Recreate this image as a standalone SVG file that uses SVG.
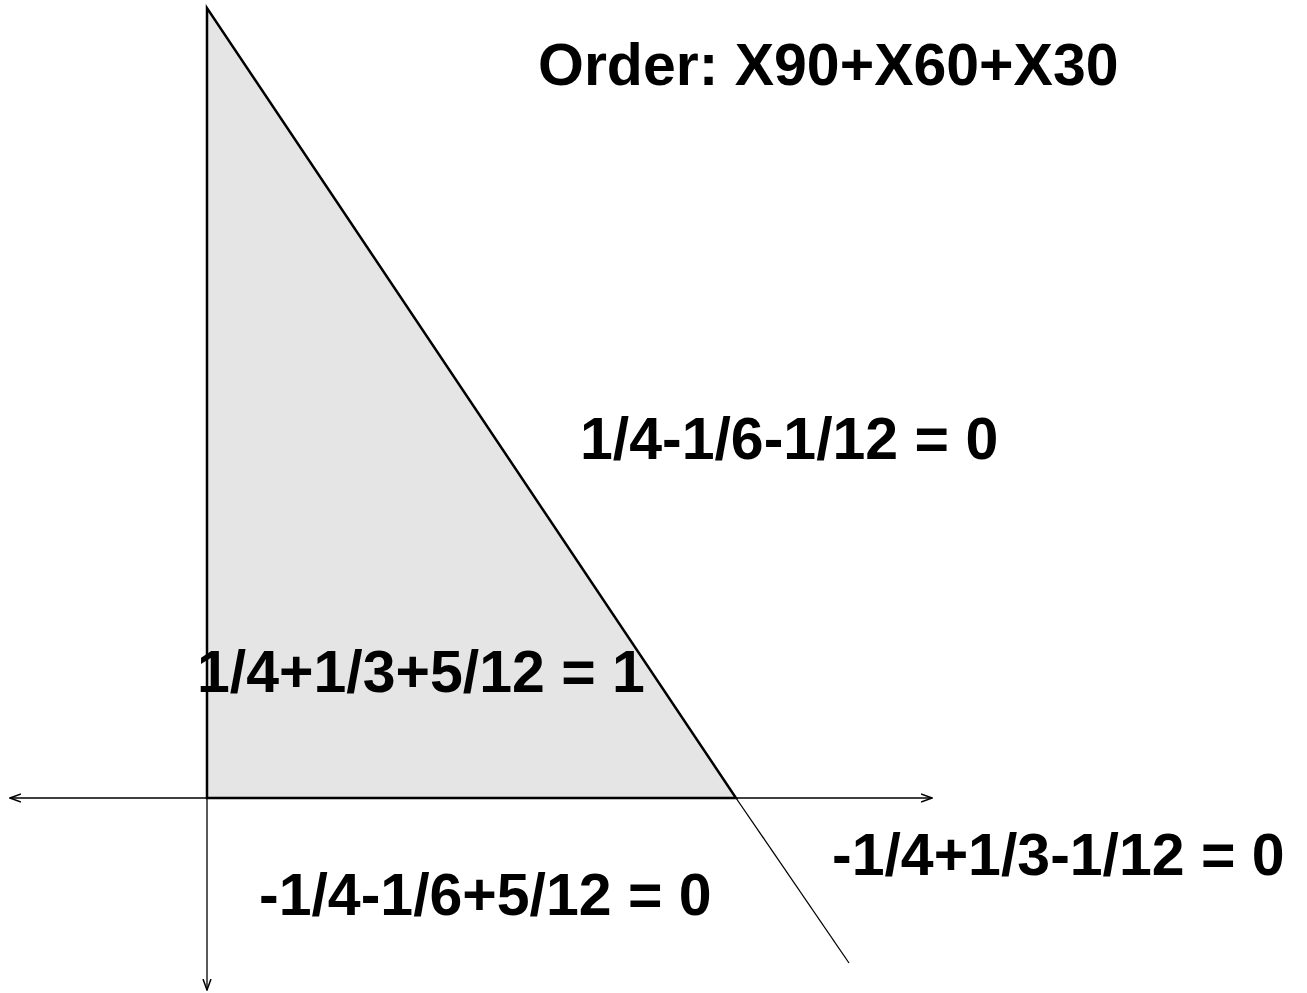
<svg xmlns="http://www.w3.org/2000/svg" width="1307" height="993" viewBox="0 0 1307 993">
<style>
text{font-family:"Liberation Sans",Arial,sans-serif;font-weight:bold;font-size:59px;fill:#000}
.ax{stroke:#000;stroke-width:1.3;fill:none}
</style>
<defs>
<marker id="ah" viewBox="0 0 12 10" refX="11" refY="5" markerWidth="12" markerHeight="10" markerUnits="userSpaceOnUse" orient="auto-start-reverse">
<path d="M0,1 L11,5 L0,9" fill="none" stroke="#000" stroke-width="1.5"/>
</marker>
</defs>
<g id="region">
<polygon points="207,8 207,798 736,798" fill="#e5e5e5" stroke="#000" stroke-width="2.5" stroke-linejoin="miter"/>
</g>
<g id="connectors">
<line class="ax" x1="10" y1="798" x2="932" y2="798" marker-start="url(#ah)" marker-end="url(#ah)"/>
<line class="ax" x1="207" y1="798" x2="207" y2="990" marker-end="url(#ah)"/>
<line class="ax" x1="736" y1="798" x2="849" y2="963" stroke-width="2"/>
</g>
<g id="labels">
<text x="538" y="85">Order: X90+X60+X30</text>
<text x="580" y="459">1/4-1/6-1/12 = 0</text>
<text x="197" y="692">1/4+1/3+5/12 = 1</text>
<text x="832" y="875">-1/4+1/3-1/12 = 0</text>
<text x="259" y="915">-1/4-1/6+5/12 = 0</text>
</g>
</svg>
